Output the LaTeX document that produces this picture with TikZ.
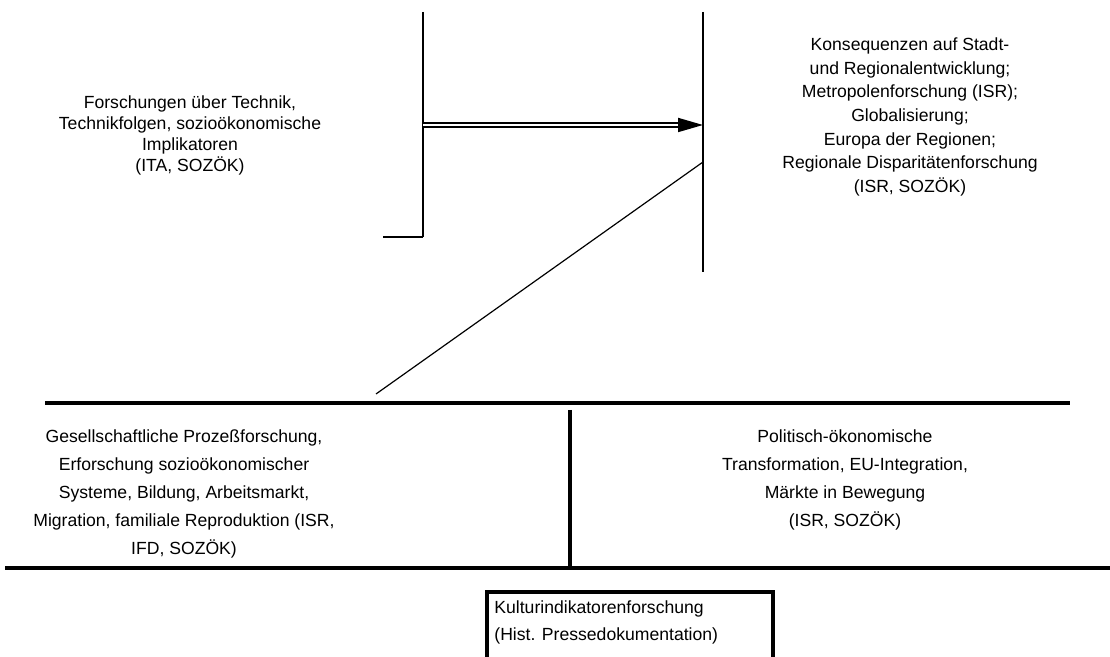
\documentclass[tikz,border=0pt]{standalone}
\usepackage{fontspec}
\setmainfont{Liberation Sans}
\usetikzlibrary{arrows.meta}
\begin{document}
\begin{tikzpicture}[x=0.5pt, y=-0.5pt, font=\fontsize{8.8}{10.5}\selectfont,
	txt/.style={align=center, inner sep=0pt},
	hair/.style={line width=0.6pt},
	bar/.style={line width=1.8pt}]
	\useasboundingbox (0,0) rectangle (1110,657);
	%points
	\coordinate (lt) at (423,12);
	\coordinate (lm) at (423,153);
	\coordinate (lb) at (423,237);
	\coordinate (lf) at (383,237);
	\coordinate (rt) at (703,12);
	\coordinate (rb) at (703,272);
	\coordinate (from) at (423,125);
	\coordinate (to) at (703,125);
	\coordinate (diag top) at (703,162);
	\coordinate (diag end) at (376,394);
	%texts
	\node[txt] (technik) at (190,135)
	{Forschungen über Technik,\\
		Technikfolgen, sozioökonomische\\
		Implikatoren\\
		(ITA, SOZÖK)};
	\node[txt, font=\fontsize{8.8}{11.85}\selectfont] (stadt) at (910,117)
	{Konsequenzen auf Stadt-\\
		und Regionalentwicklung;\\
		Metropolenforschung (ISR);\\
		Globalisierung;\\
		Europa der Regionen;\\
		Regionale Disparitätenforschung\\
		(ISR, SOZÖK)};
	\node[txt, font=\fontsize{8.8}{14}\selectfont] (prozess) at (184,493.5)
	{Gesellschaftliche Prozeßforschung,\\
		Erforschung sozioökonomischer\\
		Systeme, Bildung, Arbeitsmarkt,\\
		Migration, familiale Reproduktion (ISR,\\
		IFD, SOZÖK)};
	\node[txt, font=\fontsize{8.8}{14}\selectfont] (transform) at (845,479.5)
	{Politisch-ökonomische\\
		Transformation, EU-Integration,\\
		Märkte in Bewegung\\
		(ISR, SOZÖK)};
	\node[txt, align=left, anchor=west, font=\fontsize{8.8}{13.5}\selectfont] (kultur) at (494,622.5)
	{Kulturindikatorenforschung\\
		(Hist. Pressedokumentation)};
	%lines
	\draw[hair] (lt) -- (lm);
	\draw[line width=1.1pt] (lm) -- (lb);
	\draw[hair] (lb) -- (lf);
	\draw[hair] (rt) -- (rb);
	\draw[hair] (diag top) -- (diag end);
	\draw[line width=0.9pt, double, double distance=1pt,
	-{Triangle[length=12.5pt, width=7pt]}] (from) -- (to);
	%bars
	\draw[bar] (45,403) -- (1070,403);
	\draw[bar] (570,410) -- (570,568);
	\draw[bar] (5,568) -- (1110,568);
	\draw[bar] (487,665) -- (487,592) -- (773,592) -- (773,665);
\end{tikzpicture}
\end{document}
